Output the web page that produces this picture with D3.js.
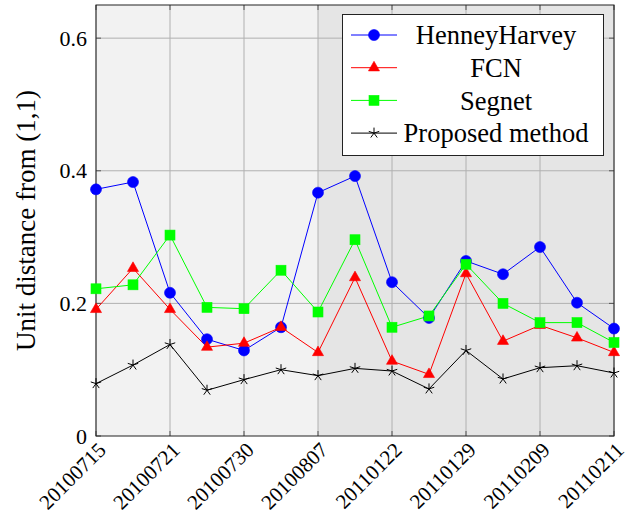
<!DOCTYPE html>
<html>
<head>
<meta charset="UTF-8">
<script src="https://cdn.jsdelivr.net/npm/d3@7"></script>
</head>
<body style="margin:0; background:#fff">
<svg id="chart" width="639" height="523" font-family="Liberation Serif"></svg>
<script>
// ---- data ----
const xTickIdx    = [0, 2, 4, 6, 8, 10, 12, 14];
const xTickLabels = ["20100715", "20100721", "20100730", "20100807",
                     "20110122", "20110129", "20110209", "20110211"];
const yTicks      = [0, 0.2, 0.4, 0.6];
const yTickLabels = ["0", "0.2", "0.4", "0.6"];
const shadeSplit  = [0, 6, 14];   // two background bands, by point index

const henneyHarvey = [0.372, 0.383, 0.216, 0.146, 0.129, 0.164, 0.367, 0.392, 0.232, 0.178, 0.264, 0.244, 0.285, 0.201, 0.162];
const fcn          = [0.191, 0.253, 0.191, 0.134, 0.140, 0.164, 0.126, 0.239, 0.113, 0.093, 0.245, 0.143, 0.167, 0.148, 0.126];
const segnet       = [0.222, 0.228, 0.303, 0.194, 0.192, 0.250, 0.187, 0.296, 0.164, 0.181, 0.259, 0.200, 0.171, 0.171, 0.141];
const proposed     = [0.079, 0.107, 0.138, 0.069, 0.085, 0.100, 0.091, 0.102, 0.098, 0.071, 0.129, 0.086, 0.103, 0.106, 0.095];

const seriesNames = ["HenneyHarvey", "FCN", "Segnet", "Proposed method"];

// ---- layout ----
const svg = d3.select("#chart");
const pLeft = 96, pRight = 614, pTop = 5, pBottom = 436;
const serif = "Liberation Serif";

const x = d3.scaleLinear().domain([0, henneyHarvey.length - 1]).range([pLeft, pRight]);
const y = d3.scaleLinear().domain([0, 0.65]).range([pBottom, pTop]);

// background bands
const bandFill = ["#f2f2f2", "#e5e5e5"];
svg.selectAll("rect.band")
  .data(d3.pairs(shadeSplit))
  .join("rect")
  .attr("class", "band")
  .attr("x", d => x(d[0]))
  .attr("y", pTop)
  .attr("width", d => x(d[1]) - x(d[0]))
  .attr("height", pBottom - pTop)
  .attr("fill", (d, i) => bandFill[i]);

// grid
svg.append("g")
  .selectAll("line")
  .data(xTickIdx)
  .join("line")
  .attr("x1", d => x(d)).attr("x2", d => x(d))
  .attr("y1", pTop).attr("y2", pBottom)
  .attr("stroke", "#b0b0b0").attr("stroke-width", 1);
svg.append("g")
  .selectAll("line")
  .data(yTicks.filter(d => d > 0))
  .join("line")
  .attr("x1", pLeft).attr("x2", pRight)
  .attr("y1", d => y(d)).attr("y2", d => y(d))
  .attr("stroke", "#b0b0b0").attr("stroke-width", 1);

// inner tick marks on all sides
const tk = 5;
const ticks = svg.append("g").attr("stroke", "#555").attr("stroke-width", 1);
xTickIdx.forEach(d => {
  ticks.append("line").attr("x1", x(d)).attr("x2", x(d)).attr("y1", pBottom).attr("y2", pBottom - tk);
  ticks.append("line").attr("x1", x(d)).attr("x2", x(d)).attr("y1", pTop).attr("y2", pTop + tk);
});
yTicks.forEach(d => {
  ticks.append("line").attr("x1", pLeft).attr("x2", pLeft + tk).attr("y1", y(d)).attr("y2", y(d));
  ticks.append("line").attr("x1", pRight).attr("x2", pRight - tk).attr("y1", y(d)).attr("y2", y(d));
});

// frame
svg.append("rect")
  .attr("x", pLeft).attr("y", pTop)
  .attr("width", pRight - pLeft).attr("height", pBottom - pTop)
  .attr("fill", "none").attr("stroke", "#222").attr("stroke-width", 1);

// tick labels
svg.append("g")
  .selectAll("text")
  .data(yTicks)
  .join("text")
  .attr("x", pLeft - 9)
  .attr("y", d => y(d))
  .attr("dy", "0.35em")
  .attr("text-anchor", "end")
  .attr("font-family", serif)
  .attr("font-size", 22)
  .attr("letter-spacing", 0.01)
  .text((d, i) => yTickLabels[i]);

svg.append("g")
  .selectAll("text")
  .data(xTickIdx)
  .join("text")
  .attr("transform", d => `translate(${x(d) + 6},${pBottom + 10}) rotate(-45)`)
  .attr("dy", "0.35em")
  .attr("text-anchor", "end")
  .attr("font-family", serif)
  .attr("font-size", 21)
  .attr("letter-spacing", 0.01)
  .text((d, i) => xTickLabels[i]);

// y axis title
svg.append("text")
  .attr("transform", `translate(35,${(pTop + pBottom) / 2}) rotate(-90)`)
  .attr("text-anchor", "middle")
  .attr("font-family", serif)
  .attr("font-size", 27)
  .text("Unit distance from (1,1)");

// ---- markers ----
function drawMarker(g, kind, color) {
  if (kind === "circle") {
    g.append("circle").attr("r", 5.5).attr("fill", color).attr("stroke", color).attr("stroke-width", 0.6);
  } else if (kind === "triangle") {
    const r = 6.4;
    g.append("path")
      .attr("d", `M0,${-r}L${0.866 * r},${0.5 * r}L${-0.866 * r},${0.5 * r}Z`)
      .attr("fill", color).attr("stroke", color).attr("stroke-width", 0.6);
  } else if (kind === "square") {
    g.append("rect").attr("x", -5).attr("y", -5).attr("width", 10).attr("height", 10)
      .attr("fill", color).attr("stroke", color).attr("stroke-width", 0.6);
  } else {
    const r = 5.5;
    let p = "";
    for (let k = 0; k < 5; k++) {
      const a = -Math.PI / 2 + k * 2 * Math.PI / 5;
      p += `M0,0L${r * Math.cos(a)},${r * Math.sin(a)}`;
    }
    g.append("path").attr("d", p).attr("fill", "none").attr("stroke", color).attr("stroke-width", 1);
  }
}

const series = [
  { name: seriesNames[0], values: henneyHarvey, color: "#0000ff", mark: "circle" },
  { name: seriesNames[1], values: fcn,          color: "#ff0000", mark: "triangle" },
  { name: seriesNames[2], values: segnet,       color: "#00ff00", mark: "square" },
  { name: seriesNames[3], values: proposed,     color: "#000000", mark: "star" }
];

const line = d3.line().x((d, i) => x(i)).y(d => y(d));

series.forEach(s => {
  svg.append("path")
    .datum(s.values)
    .attr("d", line)
    .attr("fill", "none")
    .attr("stroke", s.color)
    .attr("stroke-width", 1);
});
series.forEach(s => {
  svg.append("g")
    .selectAll("g")
    .data(s.values)
    .join("g")
    .attr("transform", (d, i) => `translate(${x(i)},${y(d)})`)
    .each(function () { drawMarker(d3.select(this), s.mark, s.color); });
});

// ---- legend ----
const lg = svg.append("g");
lg.append("rect")
  .attr("x", 342.5).attr("y", 14.5)
  .attr("width", 261).attr("height", 141)
  .attr("fill", "#fff").attr("stroke", "#222").attr("stroke-width", 1);

series.forEach((s, i) => {
  const cy = 35 + i * 32.7;
  const row = lg.append("g");
  row.append("line")
    .attr("x1", 351).attr("x2", 397).attr("y1", cy).attr("y2", cy)
    .attr("stroke", s.color).attr("stroke-width", 1);
  drawMarker(row.append("g").attr("transform", `translate(374,${cy})`), s.mark, s.color);
  row.append("text")
    .attr("x", 496).attr("y", cy)
    .attr("dy", "0.35em")
    .attr("text-anchor", "middle")
    .attr("font-family", serif)
    .attr("font-size", 26.5)
    .attr("letter-spacing", 0.01)
    .text(s.name);
});
</script>
</body>
</html>
